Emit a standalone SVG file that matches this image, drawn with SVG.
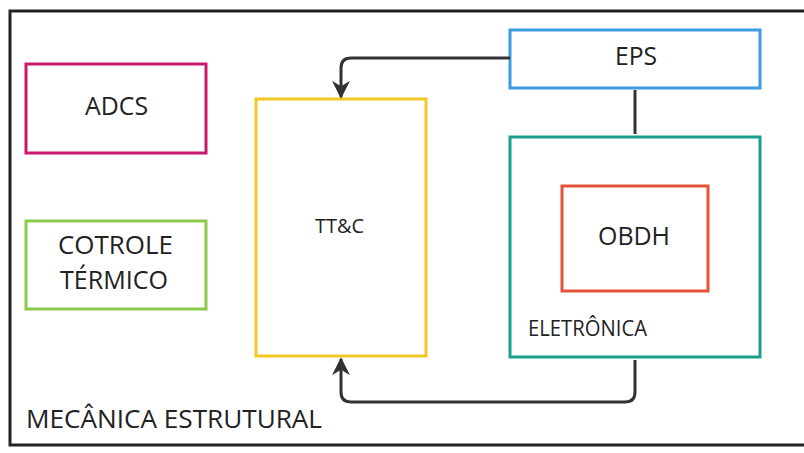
<svg xmlns="http://www.w3.org/2000/svg" width="804" height="453" viewBox="0 0 804 453">
<defs>
<style>
.box{fill:none;stroke-width:3}
.lbl{font-family:"Open Sans","Liberation Sans",sans-serif;fill:#222;font-size:25px}
.conn{fill:none;stroke:#333;stroke-width:3;stroke-linejoin:round}
</style>
<marker id="ah" viewBox="0 0 10 10" refX="9" refY="5" markerWidth="6" markerHeight="7.5" markerUnits="strokeWidth" orient="auto">
<path d="M0,0 L10,5 L0,10 L3,5 Z" fill="#333"/>
</marker>
</defs>
<rect width="804" height="453" fill="#fff"/>
<g id="mecanica">
<rect x="10" y="11" width="800" height="434" fill="none" stroke="#222" stroke-width="3"/>
<text class="lbl" x="26" y="428" style="font-size:25px" textLength="296" lengthAdjust="spacingAndGlyphs">MECÂNICA ESTRUTURAL</text>
</g>
<g id="adcs">
<rect class="box" x="26" y="64" width="180" height="89" stroke="#c8186c"/>
<text class="lbl" x="85" y="115" textLength="63" lengthAdjust="spacingAndGlyphs">ADCS</text>
</g>
<g id="termico">
<rect class="box" x="26" y="221" width="180" height="88" stroke="#8cc84b"/>
<text class="lbl" x="58" y="254" textLength="115" lengthAdjust="spacingAndGlyphs">COTROLE</text>
<text class="lbl" x="60" y="289" textLength="108" lengthAdjust="spacingAndGlyphs">TÉRMICO</text>
</g>
<g id="ttc">
<rect class="box" x="256" y="99" width="170" height="257" stroke="#f2c923"/>
<text class="lbl" x="315" y="233" style="font-size:20px" textLength="49" lengthAdjust="spacingAndGlyphs">TT&amp;C</text>
</g>
<g id="eps">
<rect class="box" x="510" y="30" width="250" height="58" stroke="#3d9be0"/>
<text class="lbl" x="615" y="65" textLength="42" lengthAdjust="spacingAndGlyphs">EPS</text>
</g>
<g id="eletronica">
<rect class="box" x="510" y="137" width="250" height="220" stroke="#1aa08a"/>
<text class="lbl" x="528" y="336" style="font-size:22px" textLength="119" lengthAdjust="spacingAndGlyphs">ELETRÔNICA</text>
</g>
<g id="obdh">
<rect class="box" x="562" y="186" width="146" height="105" stroke="#e2533a"/>
<text class="lbl" x="598" y="245" style="font-size:25px" textLength="72" lengthAdjust="spacingAndGlyphs">OBDH</text>
</g>
<g id="connectors">
<path class="conn" d="M635,90 L635,134"/>
<path class="conn" d="M510,58 L351,58 Q341,58 341,68 L341,97" marker-end="url(#ah)"/>
<path class="conn" d="M635,360 L635,392 Q635,402 625,402 L351,402 Q341,402 341,392 L341,359" marker-end="url(#ah)"/>
</g>
</svg>
